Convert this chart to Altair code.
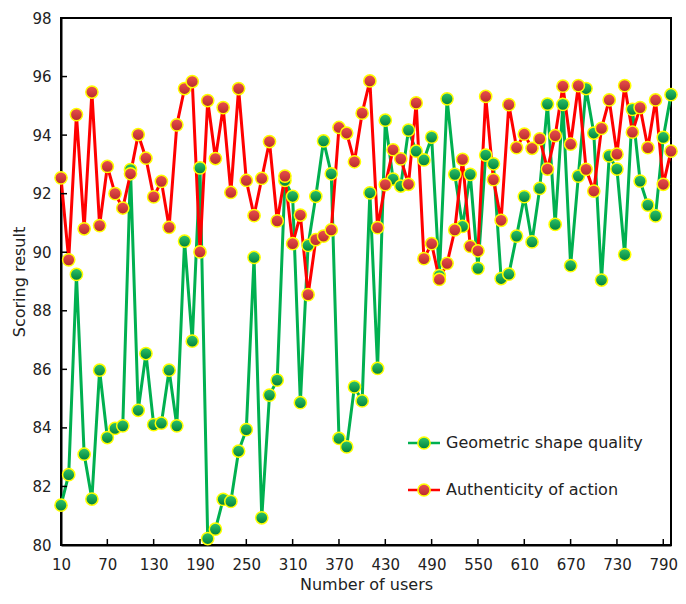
import altair as alt
import pandas as pd

# ---------------- data ----------------
users = list(range(10, 801, 10))

geometric = [
    81.36, 82.40, 89.24, 83.10, 81.57, 85.97, 83.67, 83.98, 84.07, 92.82,
    84.60, 86.54, 84.11, 84.16, 85.97, 84.07, 90.38, 86.96, 92.88, 80.22,
    80.54, 81.56, 81.49, 83.21, 83.94, 89.82, 80.93, 85.12, 85.63, 92.45,
    91.91, 84.86, 90.23, 91.91, 93.80, 92.68, 83.64, 83.35, 85.40, 84.92,
    92.03, 86.03, 94.51, 92.50, 92.26, 94.17, 93.45, 93.15, 93.93, 89.20,
    95.24, 92.66, 90.88, 92.66, 89.45, 93.32, 93.02, 89.10, 89.25, 90.55,
    91.90, 90.35, 92.18, 95.06, 90.95, 95.05, 89.54, 92.60, 95.59, 94.07,
    89.05, 93.29, 92.84, 89.92, 94.88, 92.43, 91.61, 91.24, 93.92, 95.38,
]

authenticity = [
    92.54, 89.74, 94.70, 90.80, 95.47, 90.91, 92.93, 92.00, 91.51, 92.68,
    94.02, 93.21, 91.89, 92.42, 90.85, 94.35, 95.59, 95.83, 90.01, 95.18,
    93.20, 94.94, 92.04, 95.59, 92.45, 91.25, 92.52, 93.78, 91.07, 92.60,
    90.29, 91.27, 88.55, 90.43, 90.55, 90.76, 94.26, 94.07, 93.09, 94.75,
    95.85, 90.84, 92.31, 93.50, 93.19, 92.32, 95.10, 89.78, 90.29, 89.07,
    89.62, 90.76, 93.17, 90.20, 90.05, 95.32, 92.48, 91.09, 95.04, 93.57,
    94.03, 93.55, 93.87, 92.84, 93.98, 95.67, 93.69, 95.69, 92.83, 92.09,
    94.23, 95.20, 93.35, 95.69, 94.10, 94.94, 93.57, 95.20, 92.32, 93.45,
]

x_ticks = list(range(10, 800, 60))
y_ticks = list(range(80, 99, 2))

series_labels = ["Geometric shape quality", "Authenticity of action"]

# ---------------- layout / style ----------------
PAD_L, PAD_T, PAD_R, PAD_B = 53, 10, 7, 51
W, H = 610, 527
FONT = "DejaVu Sans"
GREEN_LINE = "#00b050"
RED_LINE = "#ff0000"
MARK_STROKE = "#ffff00"
MSIZE = 150

green_fill = alt.LinearGradient(
    gradient="linear", x1=0, x2=0, y1=0, y2=1,
    stops=[alt.GradientStop(offset=0, color="#2fc46c"),
           alt.GradientStop(offset=1, color="#00803a")])
red_fill = alt.LinearGradient(
    gradient="linear", x1=0, x2=0, y1=0, y2=1,
    stops=[alt.GradientStop(offset=0, color="#ea5050"),
           alt.GradientStop(offset=1, color="#b82a2a")])

df = pd.DataFrame({"users": users, "geo": geometric, "auth": authenticity})

xs = alt.Scale(domain=[10, 800], nice=False, zero=False)
ys = alt.Scale(domain=[80, 98], nice=False, zero=False)

xaxis = alt.Axis(values=x_ticks, title="Number of users", ticks=False, grid=False,
                 labelPadding=12, titlePadding=4, format="d", labelFlush=False,
                 labelOverlap=False)
yaxis = alt.Axis(values=y_ticks, title="Scoring result", ticks=False, grid=False,
                 labelPadding=10, titlePadding=4, format="d", labelFlush=False)

X = lambda f: alt.X(f, scale=xs, axis=xaxis)
Y = lambda f: alt.Y(f, scale=ys, axis=yaxis)

base = alt.Chart(df)

geo_line = base.mark_line(color=GREEN_LINE, strokeWidth=3).encode(
    x=X("users:Q"), y=Y("geo:Q"))
geo_pts = base.mark_circle(size=MSIZE, fill=green_fill, stroke=MARK_STROKE,
                           strokeWidth=1.5, opacity=1).encode(
    x=X("users:Q"), y=Y("geo:Q"))

auth_line = base.mark_line(color=RED_LINE, strokeWidth=3).encode(
    x=X("users:Q"), y=Y("auth:Q"))
auth_pts = base.mark_circle(size=MSIZE, fill=red_fill, stroke=MARK_STROKE,
                            strokeWidth=1.5, opacity=1).encode(
    x=X("users:Q"), y=Y("auth:Q"))

# inward tick marks
xt = alt.Chart(pd.DataFrame({"users": x_ticks})).mark_rule(
    color="black", strokeWidth=1.5).encode(
    x=X("users:Q"), y=alt.value(H), y2=alt.value(H - 6))
yt = alt.Chart(pd.DataFrame({"geo": y_ticks})).mark_rule(
    color="black", strokeWidth=1.5).encode(
    y=Y("geo:Q"), x=alt.value(0), x2=alt.value(6))

# manual legend (positions relative to the plot area)
LEG_X0 = 347
LEG_Y = [425, 472]

def legend_entry(label, line_color, fill, ypos):
    d = alt.Chart(pd.DataFrame({"label": [label]}))
    ln = d.mark_rule(color=line_color, strokeWidth=2.5).encode(
        x=alt.value(LEG_X0), x2=alt.value(LEG_X0 + 32), y=alt.value(ypos))
    pt = d.mark_circle(size=MSIZE, fill=fill, stroke=MARK_STROKE, strokeWidth=1.5,
                       opacity=1).encode(x=alt.value(LEG_X0 + 16), y=alt.value(ypos))
    tx = d.mark_text(align="left", baseline="middle", font=FONT, fontSize=16,
                     color="#222222").encode(
        x=alt.value(LEG_X0 + 38), y=alt.value(ypos), text="label:N")
    return [ln, pt, tx]

legend_layers = (legend_entry(series_labels[0], GREEN_LINE, green_fill, LEG_Y[0])
                 + legend_entry(series_labels[1], RED_LINE, red_fill, LEG_Y[1]))

chart = alt.layer(
    geo_line, auth_line, xt, yt, geo_pts, auth_pts, *legend_layers
).properties(
    width=W, height=H,
    padding={"left": PAD_L, "top": PAD_T, "right": PAD_R, "bottom": PAD_B},
    autosize=alt.AutoSizeParams(type="none"),
).configure_view(
    stroke="black", strokeWidth=2
).configure_axis(
    domainColor="black", domainWidth=2,
    labelFont=FONT, labelFontSize=15, labelColor="#222222",
    titleFont=FONT, titleFontSize=16, titleFontWeight="normal", titleColor="#222222",
)

chart.save("out.html", embed_options={"renderer": "svg", "actions": False})
